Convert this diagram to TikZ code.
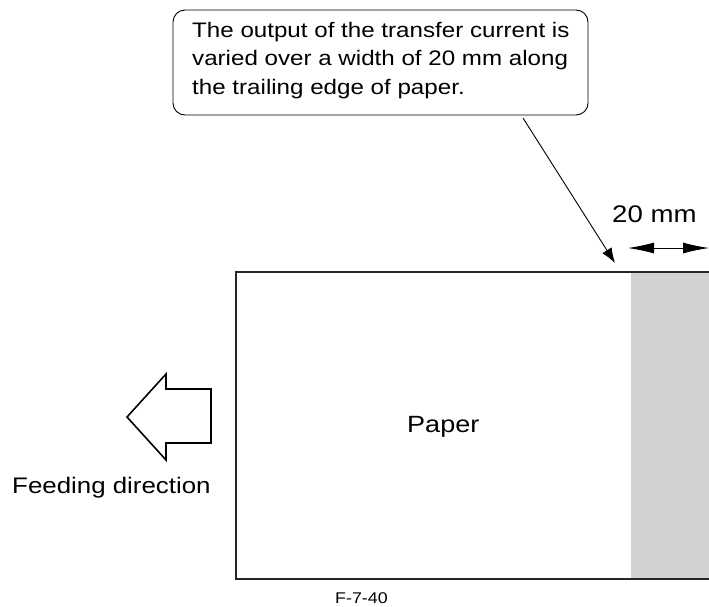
\documentclass[tikz,border=0pt]{standalone}
\usepackage{fontspec}
\setmainfont{Liberation Sans}
\newfontfamily\widesans[FakeStretch=1.15]{Liberation Sans}
\usetikzlibrary{arrows.meta}
\begin{document}
\begin{tikzpicture}[x=1pt,y=-1pt,
  lbl/.style={font=\widesans\fontsize{22.5}{28.5}\selectfont, inner sep=0pt, anchor=base west},
  thinline/.style={line width=0.9pt},
  thick3/.style={line width=2.6pt, draw=black!85}]
\useasboundingbox (0,0) rectangle (709,606);
% callout box
\draw[thinline, rounded corners=12pt] (173,10) rectangle (588,115);
\node[font=\widesans\fontsize{21}{28.5}\selectfont, inner sep=0pt, align=left, anchor=north west] (callout) at (192,22)
  {The output of the transfer current is\\varied over a width of 20 mm along\\the trailing edge of paper.};
% gray trailing area
\fill[fill={rgb,255:red,209;green,210;blue,212}] (631,272) rectangle (709,579);
% paper rectangle
\draw[thick3] (709,272) -- (236,272) -- (236,579) -- (709,579);
\node[lbl, font=\widesans\fontsize{23.5}{28}\selectfont] (paper) at (407,432) {Paper};
% pointer
\coordinate (ps) at (523,118);
\coordinate (pt) at (615,263);
\draw[thinline, -{Latex[length=15pt,width=11pt]}] (ps) -- (pt);
% 20 mm
\node[lbl, font=\widesans\fontsize{24}{28}\selectfont] (mm) at (612,222) {20 mm};
\coordinate (da) at (628,248);
\coordinate (db) at (709,248);
\draw[thinline, {Latex[length=26pt,width=11pt]}-{Latex[length=26pt,width=11pt]}] (da) -- (db);
% feeding arrow
\draw[line width=1.6pt, line join=miter]
  (127,417) -- (166,374) -- (166,389) -- (211,389) -- (211,443) -- (166,443) -- (166,460) -- cycle;
\node[lbl] (feed) at (12,493) {Feeding direction};
% figure number
\node[font=\widesans\fontsize{15.5}{18}\selectfont, inner sep=0pt, anchor=base west] (fig) at (335,603) {F-7-40};
\end{tikzpicture}
\end{document}
